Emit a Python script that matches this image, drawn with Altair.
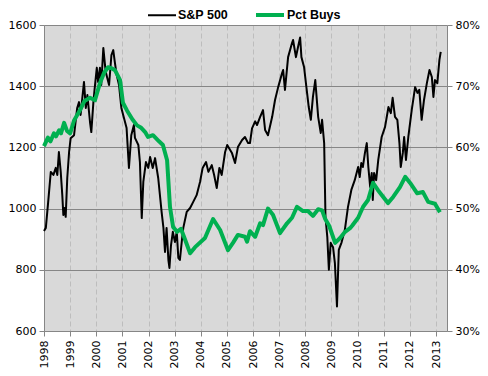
import altair as alt
import pandas as pd

# S&P 500 (decimal year, index level)
sp_years = [1998.00, 1998.07, 1998.15, 1998.26, 1998.36, 1998.45, 1998.51, 1998.57, 1998.64, 1998.70,
            1998.74, 1998.79, 1998.83, 1998.89, 1998.96, 1999.02, 1999.15, 1999.27, 1999.34, 1999.40,
            1999.53, 1999.60, 1999.66, 1999.76, 1999.81, 1999.89, 1999.94, 2000.02, 2000.07, 2000.14,
            2000.19, 2000.27, 2000.36, 2000.49, 2000.58, 2000.65, 2000.71, 2000.78, 2000.87, 2000.96,
            2001.06, 2001.16, 2001.25, 2001.34, 2001.44, 2001.48, 2001.61, 2001.67, 2001.74, 2001.80,
            2001.90, 2001.99, 2002.06, 2002.16, 2002.25, 2002.37, 2002.50, 2002.57, 2002.63, 2002.69,
            2002.76, 2002.80, 2002.86, 2002.93, 2003.01, 2003.08, 2003.14, 2003.20, 2003.27, 2003.33,
            2003.46, 2003.59, 2003.71, 2003.84, 2003.97, 2004.07, 2004.20, 2004.29, 2004.42, 2004.51,
            2004.61, 2004.71, 2004.80, 2004.93, 2005.01, 2005.19, 2005.31, 2005.42, 2005.58, 2005.69,
            2005.81, 2005.88, 2005.96, 2006.08, 2006.15, 2006.27, 2006.38, 2006.46, 2006.57, 2006.73,
            2006.84, 2006.96, 2007.11, 2007.15, 2007.22, 2007.34, 2007.49, 2007.53, 2007.64, 2007.72,
            2007.80, 2007.85, 2007.95, 2008.04, 2008.13, 2008.21, 2008.29, 2008.38, 2008.49, 2008.59,
            2008.64, 2008.72, 2008.77, 2008.84, 2008.90, 2008.97, 2009.06, 2009.13, 2009.21, 2009.28,
            2009.38, 2009.51, 2009.63, 2009.76, 2009.89, 2010.02, 2010.08, 2010.14, 2010.20, 2010.28,
            2010.35, 2010.41, 2010.48, 2010.54, 2010.58, 2010.63, 2010.71, 2010.79, 2010.92, 2011.05,
            2011.18, 2011.27, 2011.34, 2011.43, 2011.52, 2011.60, 2011.65, 2011.73, 2011.78, 2011.85,
            2011.94, 2012.07, 2012.20, 2012.29, 2012.36, 2012.45, 2012.54, 2012.65, 2012.75, 2012.84,
            2012.90, 2012.96, 2013.05, 2013.13, 2013.18]
sp_values = [927, 937, 1012, 1120, 1110, 1133, 1110, 1185, 1120, 1044,
             979, 1002, 973, 1100, 1185, 1230, 1240, 1329, 1348, 1306,
             1414, 1329, 1371, 1283, 1250, 1348, 1394, 1460, 1414, 1460,
             1404, 1525, 1447, 1404, 1502, 1518, 1479, 1437, 1404, 1329,
             1296, 1263, 1133, 1240, 1273, 1231, 1208, 1152, 969, 1087,
             1152, 1133, 1169, 1133, 1165, 1100, 989, 937, 858, 937,
             832, 806, 881, 924, 891, 924, 839, 832, 891, 937,
             989, 1002, 1022, 1044, 1087, 1133, 1152, 1120, 1142, 1110,
             1067, 1133, 1110, 1185, 1208, 1182, 1149, 1201, 1224, 1234,
             1214, 1214, 1262, 1285, 1273, 1300, 1322, 1257, 1240, 1300,
             1355, 1397, 1443, 1453, 1388, 1495, 1541, 1551, 1495, 1528,
             1559, 1495, 1463, 1397, 1332, 1290, 1365, 1420, 1300, 1247,
             1290, 1214, 973, 907, 800, 888, 874, 822, 680, 865,
             888, 930, 1005, 1061, 1093, 1136, 1103, 1149, 1136, 1182,
             1214, 1136, 1071, 1116, 1028, 1116, 1093, 1159, 1234, 1267,
             1332, 1312, 1362, 1300, 1290, 1214, 1136, 1182, 1234, 1159,
             1234, 1322, 1397, 1378, 1388, 1290, 1355, 1410, 1453, 1430,
             1365, 1420, 1410, 1486, 1512]

# Pct Buys (decimal year, percent)
pct_years = [1998.00, 1998.15, 1998.25, 1998.38, 1998.46, 1998.58, 1998.65, 1998.77, 1998.88, 1999.00,
             1999.15, 1999.38, 1999.55, 1999.76, 1999.95, 2000.14, 2000.30, 2000.45, 2000.60, 2000.72,
             2000.91, 2001.02, 2001.18, 2001.38, 2001.56, 2001.72, 2001.87, 2001.98, 2002.17, 2002.40,
             2002.55, 2002.71, 2002.82, 2002.94, 2003.09, 2003.24, 2003.40, 2003.59, 2003.78, 2004.16,
             2004.47, 2004.74, 2005.04, 2005.23, 2005.42, 2005.69, 2005.77, 2005.88, 2006.08, 2006.27,
             2006.38, 2006.57, 2006.76, 2007.03, 2007.30, 2007.49, 2007.68, 2007.91, 2008.10, 2008.29,
             2008.49, 2008.64, 2008.75, 2008.91, 2009.14, 2009.33, 2009.52, 2009.71, 2009.79, 2010.02,
             2010.21, 2010.40, 2010.59, 2010.78, 2011.16, 2011.36, 2011.62, 2011.82, 2012.01, 2012.28,
             2012.50, 2012.70, 2012.96, 2013.15]
pct_values = [60.2, 61.6, 61.0, 62.3, 61.8, 62.8, 62.3, 64.0, 62.7, 62.3,
              64.4, 66.1, 67.6, 68.1, 67.7, 70.5, 72.2, 73.1, 72.9, 72.6,
              71.0, 67.3, 66.0, 64.6, 63.6, 63.2, 62.5, 61.7, 62.0, 61.0,
              60.4, 57.9, 50.3, 47.0, 46.2, 46.7, 44.9, 42.7, 43.7, 45.2,
              48.3, 46.5, 43.2, 44.4, 45.7, 45.4, 44.6, 46.3, 45.4, 47.6,
              47.3, 50.0, 49.0, 46.0, 47.6, 48.5, 50.3, 49.6, 49.6, 48.8,
              49.9, 49.7, 48.4, 47.2, 44.4, 45.2, 46.2, 46.8, 47.2, 48.5,
              50.3, 51.4, 54.2, 53.0, 50.9, 51.9, 53.5, 55.2, 54.2, 52.5,
              52.7, 51.1, 50.8, 49.4]

series_names = ["S&P 500", "Pct Buys"]
series_colors = ["#000000", "#00B050"]
year_ticks = list(range(1998, 2014))
left_ticks = [600, 800, 1000, 1200, 1400, 1600]
right_ticks = [30, 40, 50, 60, 70, 80]

df_sp = pd.DataFrame({"t": sp_years, "v": sp_values, "series": series_names[0]})
df_pct = pd.DataFrame({"t": pct_years, "v": pct_values, "series": series_names[1]})

axis_gray = "#868686"

x_enc = alt.X(
    "t:Q",
    scale=alt.Scale(domain=[1998, 2013.42], nice=False, zero=False),
    axis=alt.Axis(values=year_ticks, format="d", labelAngle=-90, grid=True,
                  gridDash=[5, 3], gridColor="#BDBDBD", domainColor=axis_gray,
                  tickColor=axis_gray, tickSize=5, labelPadding=4, title=None,
                  labelFlush=False, labelOverlap=False),
)

color_enc = alt.Color("series:N", title=None,
                      scale=alt.Scale(domain=series_names, range=series_colors))
width_enc = alt.StrokeWidth("series:N", title=None,
                            scale=alt.Scale(domain=series_names, range=[2, 4]))

sp_line = alt.Chart(df_sp).mark_line(strokeJoin="round").encode(
    x=x_enc,
    y=alt.Y("v:Q",
            scale=alt.Scale(domain=[600, 1600], nice=False, zero=False),
            axis=alt.Axis(values=left_ticks, format="d", grid=True, gridColor=axis_gray,
                          domainColor=axis_gray, tickColor=axis_gray, tickSize=5,
                          labelPadding=3, title=None)),
    color=color_enc,
    strokeWidth=width_enc,
)

pct_line = alt.Chart(df_pct).mark_line(strokeJoin="round").encode(
    x=x_enc,
    y=alt.Y("v:Q",
            scale=alt.Scale(domain=[30, 80], nice=False, zero=False),
            axis=alt.Axis(values=right_ticks, orient="right", grid=False,
                          labelExpr="datum.value + '%'", domainColor=axis_gray,
                          tickColor=axis_gray, tickSize=5, labelPadding=3, title=None)),
    color=color_enc,
    strokeWidth=width_enc,
)

chart = alt.layer(sp_line, pct_line).resolve_scale(y="independent").properties(
    width=403, height=306, autosize="none",
    padding={"left": 36, "top": 17, "right": 33, "bottom": 37},
).configure_view(fill="#D9D9D9", stroke=None).configure_axis(
    labelFont="DejaVu Sans", labelFontSize=11, labelColor="#000000",
).configure_legend(
    orient="none", legendX=103, legendY=-26, direction="horizontal",
    symbolType="stroke", symbolSize=784, labelFont="Liberation Sans",
    labelFontSize=12.5, labelFontWeight="bold", labelColor="#000000",
    columnPadding=19, labelOffset=1,
)

chart.save("out.html", embed_options={"renderer": "svg", "actions": False})
